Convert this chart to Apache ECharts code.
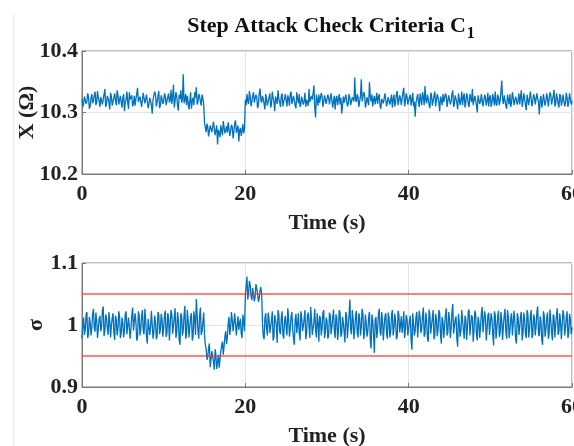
<!DOCTYPE html>
<html>
<head>
<meta charset="utf-8">
<script src="https://cdn.jsdelivr.net/npm/echarts@6/dist/echarts.min.js"></script>
<style>
  html, body { margin: 0; padding: 0; background: #fff; }
  #chart { width: 574px; height: 446px; }
</style>
</head>
<body>
<div id="chart"></div>
<script>
// samples are 0.2 s apart; the *Mid lists hold the readings halfway between them
const dt = 0.2;

// reactance X (Ohm) at t = 0, 0.2, ... 60 s
const reactance = [
    10.322, 10.315, 10.328, 10.318, 10.325, 10.311, 10.330, 10.319, 10.334, 10.316, 10.324, 10.309, 10.327, 10.321, 10.338, 10.314, 10.323, 10.305, 10.326, 10.318, 10.331, 10.312, 10.329, 10.320, 10.317,
    10.324, 10.302, 10.321, 10.316, 10.333, 10.319, 10.310, 10.327, 10.322, 10.340, 10.315, 10.326, 10.308, 10.323, 10.318, 10.331, 10.313, 10.325, 10.298, 10.320, 10.329, 10.317, 10.335, 10.312, 10.322,
    10.318, 10.327, 10.309, 10.331, 10.320, 10.314, 10.345, 10.319, 10.326, 10.303, 10.322, 10.316, 10.362, 10.321, 10.312, 10.328, 10.318, 10.306, 10.324, 10.333, 10.341, 10.317, 10.326, 10.311, 10.323,
    10.284, 10.268, 10.276, 10.262, 10.281, 10.270, 10.288, 10.266, 10.248, 10.274, 10.279, 10.263, 10.285, 10.271, 10.267, 10.282, 10.259, 10.276, 10.269, 10.287, 10.264, 10.253, 10.275, 10.270, 10.266,
    10.321, 10.330, 10.314, 10.326, 10.308, 10.333, 10.319, 10.325, 10.312, 10.339, 10.316, 10.322, 10.305, 10.328, 10.318, 10.331, 10.313, 10.324, 10.302, 10.320, 10.336, 10.317, 10.327, 10.310, 10.323,
    10.319, 10.328, 10.311, 10.334, 10.316, 10.325, 10.307, 10.322, 10.330, 10.314, 10.327, 10.318, 10.309, 10.324, 10.338, 10.315, 10.321, 10.344, 10.292, 10.320, 10.329, 10.313, 10.326, 10.317, 10.331,
    10.316, 10.324, 10.310, 10.329, 10.319, 10.305, 10.327, 10.321, 10.313, 10.298, 10.326, 10.318, 10.332, 10.314, 10.323, 10.309, 10.328, 10.357, 10.317, 10.325, 10.311, 10.354, 10.320, 10.329, 10.315,
    10.322, 10.349, 10.318, 10.310, 10.327, 10.321, 10.314, 10.330, 10.306, 10.324, 10.317, 10.333, 10.312, 10.326, 10.320, 10.308, 10.329, 10.316, 10.335, 10.319, 10.323, 10.311, 10.340, 10.318, 10.326,
    10.314, 10.329, 10.320, 10.310, 10.293, 10.323, 10.317, 10.331, 10.312, 10.326, 10.343, 10.315, 10.322, 10.307, 10.328, 10.319, 10.334, 10.313, 10.324, 10.302, 10.321, 10.330, 10.316, 10.327, 10.311,
    10.325, 10.318, 10.336, 10.314, 10.322, 10.305, 10.329, 10.320, 10.312, 10.331, 10.317, 10.326, 10.309, 10.323, 10.338, 10.315, 10.321, 10.300, 10.327, 10.318, 10.333, 10.313, 10.324, 10.319, 10.310,
    10.328, 10.316, 10.322, 10.334, 10.311, 10.325, 10.319, 10.352, 10.314, 10.327, 10.306, 10.321, 10.330, 10.317, 10.324, 10.309, 10.328, 10.320, 10.313, 10.336, 10.318, 10.323, 10.304, 10.326, 10.315,
    10.331, 10.319, 10.325, 10.310, 10.322, 10.297, 10.327, 10.316, 10.333, 10.318, 10.324, 10.312, 10.329, 10.320, 10.337, 10.314, 10.323, 10.308, 10.326, 10.318, 10.330, 10.315, 10.324, 10.317, 10.328,
    10.319
];

// reactance X (Ohm) at t = 0.1, 0.3, ... 59.9 s
const reactanceMid = [
    10.309, 10.326, 10.314, 10.331, 10.306, 10.323, 10.315, 10.328, 10.312, 10.335, 10.318, 10.325, 10.313, 10.330, 10.309, 10.327, 10.316, 10.332, 10.311, 10.324, 10.319, 10.336, 10.313, 10.327, 10.308,
    10.330, 10.317, 10.334, 10.306, 10.321, 10.328, 10.314, 10.311, 10.330, 10.317, 10.326, 10.309, 10.332, 10.315, 10.329, 10.307, 10.324, 10.312, 10.321, 10.334, 10.310, 10.326, 10.307, 10.328, 10.314,
    10.331, 10.312, 10.325, 10.316, 10.337, 10.326, 10.308, 10.333, 10.312, 10.329, 10.336, 10.321, 10.315, 10.330, 10.327, 10.305, 10.333, 10.318, 10.312, 10.324, 10.313, 10.330, 10.318, 10.329, 10.314,
    10.275, 10.282, 10.261, 10.279, 10.268, 10.285, 10.263, 10.279, 10.272, 10.260, 10.270, 10.286, 10.266, 10.278, 10.284, 10.262, 10.280, 10.258, 10.283, 10.267, 10.279, 10.271, 10.262, 10.281, 10.274,
    10.312, 10.318, 10.335, 10.310, 10.327, 10.316, 10.329, 10.307, 10.331, 10.320, 10.327, 10.313, 10.330, 10.311, 10.325, 10.308, 10.334, 10.317, 10.326, 10.314, 10.322, 10.309, 10.331, 10.318, 10.330,
    10.310, 10.322, 10.330, 10.314, 10.327, 10.311, 10.333, 10.315, 10.309, 10.326, 10.313, 10.332, 10.321, 10.311, 10.317, 10.327, 10.331, 10.308, 10.329, 10.311, 10.316, 10.332, 10.309, 10.328, 10.314,
    10.329, 10.313, 10.331, 10.308, 10.327, 10.322, 10.312, 10.330, 10.324, 10.311, 10.316, 10.329, 10.310, 10.330, 10.312, 10.325, 10.318, 10.321, 10.330, 10.309, 10.327, 10.318, 10.333, 10.308, 10.325,
    10.312, 10.326, 10.329, 10.321, 10.313, 10.332, 10.325, 10.311, 10.322, 10.315, 10.331, 10.310, 10.325, 10.313, 10.329, 10.321, 10.310, 10.330, 10.312, 10.328, 10.312, 10.333, 10.310, 10.331, 10.313,
    10.325, 10.311, 10.332, 10.318, 10.316, 10.330, 10.309, 10.322, 10.333, 10.312, 10.320, 10.329, 10.313, 10.332, 10.311, 10.327, 10.310, 10.330, 10.316, 10.326, 10.312, 10.317, 10.331, 10.309, 10.328,
    10.313, 10.330, 10.309, 10.328, 10.316, 10.331, 10.312, 10.334, 10.325, 10.308, 10.331, 10.313, 10.330, 10.317, 10.312, 10.327, 10.311, 10.328, 10.314, 10.330, 10.310, 10.329, 10.311, 10.332, 10.324,
    10.309, 10.330, 10.311, 10.315, 10.329, 10.312, 10.334, 10.321, 10.328, 10.311, 10.329, 10.313, 10.309, 10.333, 10.312, 10.326, 10.313, 10.331, 10.326, 10.309, 10.331, 10.311, 10.329, 10.312, 10.334,
    10.310, 10.330, 10.313, 10.331, 10.316, 10.322, 10.308, 10.330, 10.311, 10.331, 10.310, 10.333, 10.313, 10.327, 10.310, 10.331, 10.314, 10.330, 10.311, 10.329, 10.310, 10.332, 10.309, 10.331, 10.313
];

// check criteria sigma at t = 0, 0.2, ... 60 s
const sigma = [
    0.978, 1.012, 0.992, 1.021, 0.986, 1.004, 0.995, 1.026, 0.989, 1.008, 0.981, 1.015, 0.997, 1.030, 0.990, 1.011, 0.984, 1.006, 0.999, 1.019, 0.976, 1.009, 0.993, 1.014, 0.987,
    1.003, 0.991, 1.022, 0.983, 1.010, 0.996, 1.028, 0.988, 1.005, 0.979, 1.016, 0.994, 1.024, 0.985, 1.007, 0.970, 1.013, 0.998, 1.020, 0.989, 1.006, 0.982, 1.017, 0.993, 1.009,
    0.995, 1.023, 0.986, 1.011, 0.977, 1.018, 0.999, 1.027, 0.988, 1.008, 0.968, 1.014, 0.992, 1.031, 0.985, 1.006, 0.997, 1.019, 0.981, 1.010, 1.042, 0.990, 1.015, 0.984, 1.004,
    0.985, 0.962, 0.948, 0.970, 0.935, 0.955, 0.928, 0.951, 0.940, 0.931, 0.958, 0.973, 0.966, 0.990, 0.981, 1.013, 0.996, 1.008, 0.987, 1.016, 1.001, 0.992, 1.010, 0.979, 1.005,
    1.048, 1.078, 1.052, 1.064, 1.040, 1.058, 1.045, 1.069, 1.037, 1.055, 1.050, 0.982, 1.012, 0.994, 1.020, 0.987, 1.007, 0.975, 1.016, 0.999, 1.024, 0.990, 1.011, 0.984, 1.006,
    0.996, 1.027, 0.981, 1.013, 0.993, 0.968, 1.018, 1.001, 0.986, 1.022, 0.990, 1.009, 0.977, 1.015, 0.998, 1.029, 0.984, 1.006, 0.992, 1.019, 0.973, 1.010, 0.995, 1.024, 0.988,
    1.007, 0.983, 1.016, 0.997, 1.025, 0.979, 1.011, 0.991, 1.020, 0.986, 1.004, 0.972, 1.014, 0.999, 1.041, 0.985, 1.009, 0.994, 1.023, 0.980, 1.012, 0.996, 1.018, 0.988, 1.003,
    0.990, 1.021, 0.962, 1.008, 0.955, 1.013, 0.993, 1.026, 0.983, 1.005, 0.997, 1.019, 0.978, 1.011, 0.989, 1.024, 0.994, 1.007, 0.981, 1.017, 1.000, 0.987, 1.022, 0.992, 1.010,
    0.984, 1.015, 0.960, 1.002, 0.991, 1.021, 0.979, 1.012, 0.995, 1.028, 0.986, 1.008, 0.973, 1.016, 0.999, 1.024, 0.983, 1.010, 0.992, 1.019, 0.970, 1.006, 0.997, 1.027, 0.988,
    1.011, 0.994, 1.034, 0.985, 1.014, 0.965, 1.003, 0.990, 1.022, 0.978, 1.009, 0.996, 1.025, 0.983, 1.012, 0.991, 1.018, 0.975, 1.006, 0.997, 1.029, 0.986, 1.013, 0.993, 1.020,
    0.981, 1.010, 0.967, 1.016, 0.995, 1.023, 0.987, 1.007, 0.999, 1.026, 0.978, 1.014, 0.991, 1.019, 0.984, 1.005, 0.970, 1.012, 0.996, 1.021, 0.988, 1.009, 0.979, 1.017, 0.993,
    1.024, 0.985, 1.011, 0.997, 1.030, 0.982, 1.006, 0.968, 1.015, 0.992, 1.020, 0.986, 1.008, 0.975, 1.013, 0.999, 1.027, 0.989, 1.004, 0.980, 1.016, 0.994, 1.022, 0.987, 1.010,
    0.996
];

// check criteria sigma at t = 0.1, 0.3, ... 59.9 s
const sigmaMid = [
    0.999, 0.984, 1.017, 0.979, 1.013, 0.983, 1.018, 0.996, 1.020, 0.979, 1.010, 0.990, 1.023, 0.982, 1.017, 0.995, 1.021, 0.980, 1.011, 0.988, 1.015, 0.983, 1.022, 0.979, 1.012,
    0.980, 1.018, 0.985, 1.012, 0.978, 1.016, 0.991, 1.019, 0.975, 1.022, 0.983, 1.014, 0.990, 1.026, 0.981, 1.010, 0.984, 1.023, 0.978, 1.015, 0.977, 1.021, 0.985, 1.018, 0.981,
    1.016, 0.981, 1.019, 0.975, 1.024, 0.986, 1.012, 0.979, 1.021, 0.976, 1.019, 0.983, 1.017, 0.978, 1.024, 0.980, 1.013, 0.975, 1.022, 0.984, 1.017, 0.978, 1.028, 0.990, 1.020,
    0.968, 0.944, 0.963, 0.932, 0.958, 0.940, 0.961, 0.929, 0.952, 0.945, 0.967, 0.952, 0.982, 0.969, 1.002, 0.984, 1.021, 0.990, 1.019, 0.983, 1.014, 1.004, 0.986, 1.017, 0.990,
    1.062, 1.041, 1.071, 1.046, 1.060, 1.038, 1.066, 1.051, 1.043, 1.061, 1.003, 0.977, 1.019, 0.983, 1.011, 0.997, 1.022, 0.980, 1.013, 0.971, 1.017, 0.985, 1.022, 0.978, 1.015,
    0.983, 1.012, 0.994, 1.021, 0.978, 1.009, 0.987, 1.019, 0.975, 1.013, 0.998, 1.024, 0.986, 1.020, 0.979, 1.011, 0.995, 1.026, 0.980, 1.003, 1.015, 0.983, 1.020, 0.979, 1.012,
    0.978, 1.020, 0.985, 1.012, 0.990, 1.017, 0.976, 1.024, 0.981, 1.013, 0.988, 1.021, 0.979, 1.016, 0.992, 1.024, 0.977, 1.015, 0.986, 1.019, 0.983, 1.026, 0.977, 1.017, 0.981,
    1.013, 0.976, 1.017, 0.984, 1.008, 0.979, 1.018, 0.989, 1.021, 0.975, 1.014, 0.985, 1.020, 0.980, 1.016, 0.983, 1.018, 0.977, 1.023, 0.988, 1.014, 1.001, 0.979, 1.016, 0.983,
    1.006, 0.975, 1.019, 0.983, 1.014, 0.980, 1.023, 0.987, 1.016, 0.981, 1.020, 0.978, 1.025, 0.986, 1.011, 0.977, 1.018, 0.982, 1.024, 0.984, 1.013, 0.979, 1.016, 0.983, 1.021,
    0.979, 1.020, 0.986, 1.009, 0.978, 1.018, 0.981, 1.024, 0.992, 1.015, 0.976, 1.021, 0.983, 1.016, 0.973, 1.023, 0.985, 1.013, 0.979, 1.019, 0.988, 1.022, 0.975, 1.016, 0.984,
    1.019, 0.984, 1.022, 0.978, 1.013, 0.981, 1.021, 0.976, 1.015, 0.988, 1.024, 0.979, 1.012, 0.983, 1.023, 0.977, 1.019, 0.984, 1.015, 0.975, 1.020, 0.986, 1.024, 0.980, 1.014,
    0.979, 1.017, 0.983, 1.021, 0.986, 1.014, 0.976, 1.022, 0.981, 1.011, 0.978, 1.025, 0.988, 1.017, 0.980, 1.016, 0.984, 1.019, 0.977, 1.024, 0.983, 1.012, 0.979, 1.018, 0.985
];

// red limit lines on sigma
const limits = [1.05, 0.95];

const font = '"Liberation Serif", "Times New Roman", serif';
const blue = '#0072bd';

// merge the on-step and half-step readings into [t, value] pairs
function pairs(vals, mids) {
    let out = [];
    vals.forEach((v, i) => {
        out.push([+(i * dt).toFixed(1), v]);
        if (i < mids.length) out.push([+(i * dt + dt / 2).toFixed(1), mids[i]]);
    });
    return out;
}

function xAxisFor(idx) {
    return {
        type: 'value',
        gridIndex: idx,
        min: 0,
        max: 60,
        interval: 20,
        name: 'Time (s)',
        nameLocation: 'middle',
        nameGap: 38,
        nameTextStyle: { fontFamily: font, fontWeight: 'bold', fontSize: 22, color: '#222' },
        axisLine: { show: true, lineStyle: { color: '#7a7a7a' } },
        axisTick: { show: true, inside: true, length: 4, lineStyle: { color: '#7a7a7a' } },
        axisLabel: { fontFamily: font, fontWeight: 'bold', fontSize: 22, color: '#222', margin: 9 },
        splitLine: { show: true, lineStyle: { color: '#e4e4e4' } }
    };
}

function yAxisFor(idx, min, max, name, gap) {
    return {
        type: 'value',
        gridIndex: idx,
        min: min,
        max: max,
        interval: 0.1,
        name: name,
        nameLocation: 'middle',
        nameGap: gap,
        nameMoveOverlap: false,
        nameTextStyle: { fontFamily: font, fontWeight: 'bold', fontSize: 22, color: '#222' },
        axisLine: { show: true, lineStyle: { color: '#7a7a7a' } },
        axisTick: { show: true, inside: true, length: 4, lineStyle: { color: '#7a7a7a' } },
        axisLabel: { fontFamily: font, fontWeight: 'bold', fontSize: 22, color: '#222', margin: 4 },
        splitLine: { show: true, lineStyle: { color: '#e4e4e4' } }
    };
}

let option = {
    animation: false,
    title: {
        text: '{a|Step Attack Check Criteria C}{s|1}',
        left: 326,
        textAlign: 'center',
        top: 5,
        textStyle: {
            rich: {
                a: { fontFamily: font, fontWeight: 'bold', fontSize: 22, color: '#111' },
                s: { fontFamily: font, fontWeight: 'bold', fontSize: 16, color: '#111', padding: [16, 0, 0, 1] }
            }
        }
    },
    graphic: [{
        type: 'line',
        shape: { x1: 13.5, y1: 14, x2: 13.5, y2: 446 },
        style: { stroke: '#e6e6e6', lineWidth: 1 }
    }],
    grid: [
        { left: 82, right: 2, top: 51, height: 123, show: true, borderColor: '#7a7a7a', borderWidth: 1, containLabel: false, outerBoundsMode: 'none' },
        { left: 82, right: 2, top: 263, height: 124, show: true, borderColor: '#7a7a7a', borderWidth: 1, containLabel: false, outerBoundsMode: 'none' }
    ],
    xAxis: [xAxisFor(0), xAxisFor(1)],
    yAxis: [
        yAxisFor(0, 10.2, 10.4, 'X (\u03a9)', 44),
        yAxisFor(1, 0.9, 1.1, '\u03c3', 35)
    ],
    series: [
        {
            type: 'line',
            xAxisIndex: 0,
            yAxisIndex: 0,
            data: pairs(reactance, reactanceMid),
            showSymbol: false,
            lineStyle: { color: blue, width: 1.3 }
        },
        {
            type: 'line',
            xAxisIndex: 1,
            yAxisIndex: 1,
            data: pairs(sigma, sigmaMid),
            showSymbol: false,
            lineStyle: { color: blue, width: 1.3 },
            markLine: {
                silent: true,
                symbol: 'none',
                label: { show: false },
                lineStyle: { color: '#ff3030', width: 1.6, type: 'solid', opacity: 0.8 },
                data: limits.map(v => ({ yAxis: v }))
            }
        }
    ]
};

echarts.init(document.getElementById('chart')).setOption(option);
</script>
</body>
</html>
